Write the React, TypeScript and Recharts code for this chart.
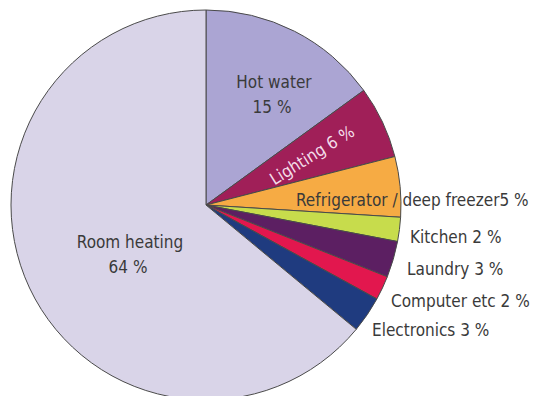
import React from 'react';
import { PieChart, Pie, Cell } from 'recharts';

const categories = [
  'Hot water',
  'Lighting',
  'Refrigerator / deep freezer',
  'Kitchen',
  'Laundry',
  'Computer etc',
  'Electronics',
  'Room heating',
];
const shares = [15, 6, 5, 2, 3, 2, 3, 64];
const sliceColors = ['#aba5d3', '#a01f58', '#f6ab44', '#c7dc4c', '#5c1f62', '#e2174e', '#1f3b7f', '#d9d4e8'];

const data = categories.map((name, i) => ({ name, value: shares[i] }));

const FONT = "'DejaVu Sans Condensed', 'Liberation Sans Narrow', sans-serif";

type Layout = {
  dx: number;
  dy: number;
  anchor: 'start' | 'middle' | 'end';
  twoLines?: boolean;
  rotate?: number;
  fill?: string;
  joiner?: string;
};

const labelLayout: Record<string, Layout> = {
  'Hot water': { dx: 68, dy: -123, anchor: 'middle', twoLines: true },
  Lighting: { dx: 106, dy: -50, anchor: 'middle', rotate: -32, fill: '#f4dde9' },
  'Refrigerator / deep freezer': { dx: 90, dy: -5, anchor: 'start', joiner: '' },
  Kitchen: { dx: 204, dy: 32, anchor: 'start' },
  Laundry: { dx: 201, dy: 64, anchor: 'start' },
  'Computer etc': { dx: 185, dy: 96, anchor: 'start' },
  Electronics: { dx: 166, dy: 125, anchor: 'start' },
  'Room heating': { dx: -76, dy: 37, anchor: 'middle', twoLines: true },
};

const renderLabel = (props: any) => {
  const { cx, cy, index } = props;
  const name = categories[index];
  const value = shares[index];
  const l = labelLayout[name];
  const x = cx + l.dx;
  const y = cy + l.dy;
  const fill = l.fill || '#3a3a3a';
  const common = {
    fontFamily: FONT,
    fontSize: 17,
    fill,
    textAnchor: l.anchor,
    dominantBaseline: 'central' as const,
  };
  if (l.twoLines) {
    return (
      <g key={`lbl-${index}`}>
        <text x={x} y={y} {...common}>{name}</text>
        <text x={x - 2} y={y + 25} {...common}>{`${value} %`}</text>
      </g>
    );
  }
  const joiner = l.joiner !== undefined ? l.joiner : ' ';
  return (
    <text
      key={`lbl-${index}`}
      x={x}
      y={y}
      {...common}
      transform={l.rotate ? `rotate(${l.rotate} ${x} ${y})` : undefined}
    >
      {`${name}${joiner}${value} %`}
    </text>
  );
};

export default function App() {
  return (
    <div style={{ width: 534, height: 388, background: '#ffffff' }}>
      <PieChart width={534} height={388} margin={{ top: 0, right: 0, bottom: 0, left: 0 }}>
        <Pie
          data={data}
          dataKey="value"
          nameKey="name"
          cx={198}
          cy={197}
          outerRadius={195}
          startAngle={90}
          endAngle={-270}
          stroke="#4a4a4a"
          strokeWidth={1}
          label={renderLabel}
          labelLine={false}
          isAnimationActive={false}
        >
          {data.map((d, i) => (
            <Cell key={d.name} fill={sliceColors[i]} />
          ))}
        </Pie>
      </PieChart>
    </div>
  );
}
